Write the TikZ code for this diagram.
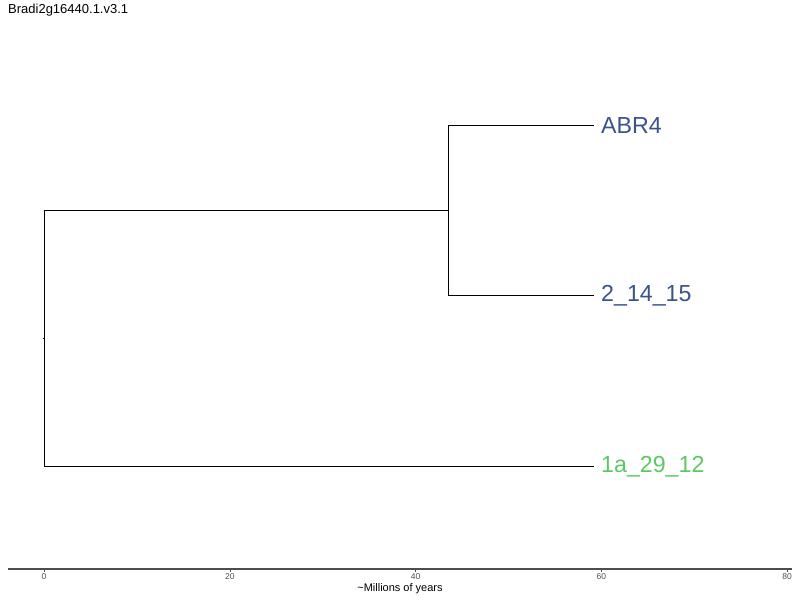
\documentclass[tikz,border=0pt]{standalone}
\usepackage{fontspec}
\setmainfont{Liberation Sans}
\usetikzlibrary{positioning}
\definecolor{tipBlue}{HTML}{3B528B}
\definecolor{tipGreen}{HTML}{5DC863}
\definecolor{axisGray}{HTML}{4D4D4D}

\begin{document}
\begin{tikzpicture}[
    x=1pt, y=-1pt,
    branch/.style={draw=black, line width=0.9pt},
    tip/.style={anchor=west, inner sep=0pt, font=\fontsize{23.2}{25}\selectfont},
    ticklab/.style={font=\fontsize{8.5}{9}\selectfont, text=axisGray, inner sep=0pt},
  ]
    \useasboundingbox (0,0) rectangle (800,600);
    \node[anchor=west, inner sep=0pt, font=\fontsize{13}{15}\selectfont] (title) at (8,10) {Bradi2g16440.1.v3.1};

    % tree nodes
    \coordinate (root) at (44,338);
    \coordinate (inner) at (448,210);
    \coordinate (tA) at (594,125);
    \coordinate (tB) at (594,295);
    \coordinate (tC) at (594,466);
    \node[tip, text=tipBlue] (abr) at (601,125.5) {ABR4};
    \node[tip, text=tipBlue] (two) at (601,295.5) {2\_14\_15};
    \node[tip, text=tipGreen] (one) at (601,466.5) {1a\_29\_12};

    % branches
    \draw[branch] ([xshift=-1]root) -- (root);
    \draw[branch] (root |- inner) -- (root |- tC);
    \draw[branch] (root |- inner) -- (inner);
    \draw[branch] (root |- tC) -- (tC);
    \draw[branch] (inner |- tA) -- (inner |- tB);
    \draw[branch] (inner |- tA) -- (tA);
    \draw[branch] (inner |- tB) -- (tB);

    % time axis
    \coordinate (axL) at (8,569);
    \coordinate (axR) at (792,569);
    \draw[axisGray, line width=1.1pt] (axL) -- (axR);
    \foreach \t in {0,20,40,60,80} {
      \draw[axisGray, line width=0.6pt] ({44+9.29*\t},569) -- ({44+9.29*\t},572);
      \node[ticklab] at ({44+9.29*\t},577) {\t};
    }
    \node[font=\fontsize{11}{12}\selectfont, inner sep=0pt] (axtitle) at (400,589) {\textasciitilde Millions of years};
  \end{tikzpicture}
\end{document}
